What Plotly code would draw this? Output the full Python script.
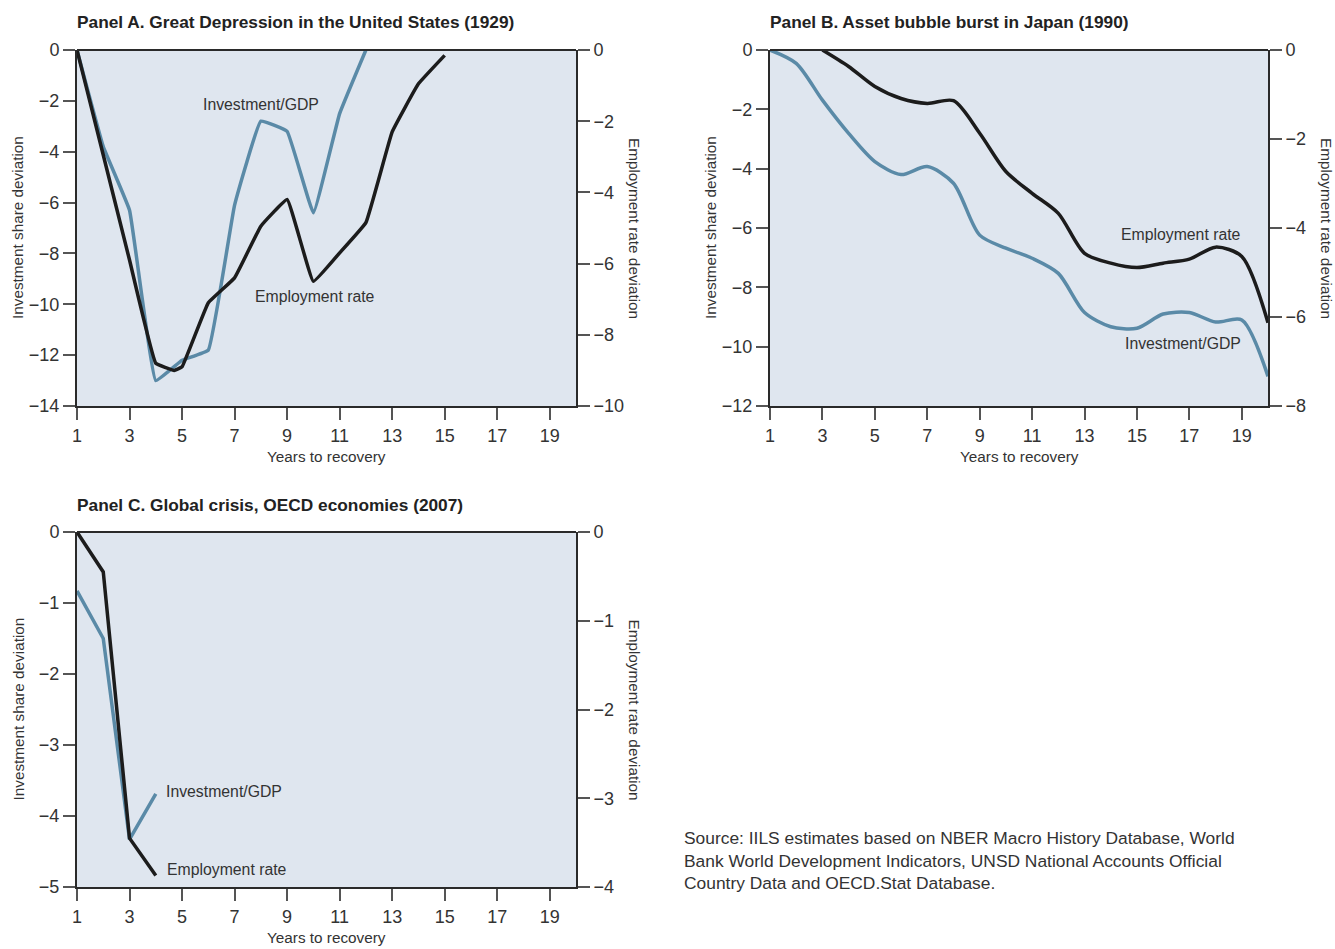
import plotly.graph_objects as go

# ---------------- data ----------------
years_a_inv = [1, 2, 3, 4, 5, 6, 7, 8, 9, 10, 11, 12]
inv_a = [0.0, -3.8, -6.3, -13.0, -12.2, -11.8, -6.1, -2.8, -3.2, -6.4, -2.5, 0.0]
years_a_emp = [1, 2, 3, 4, 4.7, 5, 6, 7, 8, 9, 10, 11, 12, 13, 14, 15]
emp_a = [0.0, -2.95, -5.9, -8.8, -9.0, -8.9, -7.1, -6.4, -4.95, -4.2, -6.5, -5.7, -4.85, -2.3, -0.95, -0.15]

years_b_inv = list(range(1, 21))
inv_b = [0.0, -0.45, -1.69, -2.81, -3.76, -4.2, -3.93, -4.49, -6.24, -6.68, -7.02,
         -7.53, -8.85, -9.33, -9.38, -8.9, -8.85, -9.17, -9.1, -11.0]
years_b_emp = list(range(3, 21))
emp_b = [0.0, -0.37, -0.82, -1.09, -1.2, -1.14, -1.87, -2.73, -3.22, -3.67, -4.57,
         -4.79, -4.89, -4.79, -4.7, -4.43, -4.64, -6.13]

years_c = [1, 2, 3, 4]
inv_c = [-0.83, -1.5, -4.33, -3.69]
emp_c = [0.0, -0.45, -3.45, -3.87]

x_ticks = [1, 3, 5, 7, 9, 11, 13, 15, 17, 19]

titles = ["Panel A. Great Depression in the United States (1929)",
          "Panel B. Asset bubble burst in Japan (1990)",
          "Panel C. Global crisis, OECD economies (2007)"]
source_text = ("Source: IILS estimates based on NBER Macro History Database, World<br>"
               "Bank World Development Indicators, UNSD National Accounts Official<br>"
               "Country Data and OECD.Stat Database.")

# ---------------- style ----------------
W, H = 1335, 949
BG = "#dfe6ef"
BLUE = "#5a8aa7"
BLACK = "#1c1c1c"
AX = "#2a2a2a"
TICK = "#555555"
TXT = "#333333"
FONT = "Liberation Sans, Arial, sans-serif"


def px_x(v):
    return v / W


def px_y(v):
    return 1 - v / H


fig = go.Figure()

# panel geometry in pixels: (left, right, top, bottom)
panels = [
    (77, 576, 50, 406),
    (770, 1268, 50, 406),
    (77, 576, 532, 887),
]

fig.add_trace(go.Scatter(x=years_a_inv, y=inv_a, xaxis="x", yaxis="y", mode="lines",
                         line=dict(color=BLUE, width=3.5, shape="spline", smoothing=0.25),
                         showlegend=False))
fig.add_trace(go.Scatter(x=years_a_emp, y=emp_a, xaxis="x", yaxis="y2", mode="lines",
                         line=dict(color=BLACK, width=3.5, shape="spline", smoothing=0.25),
                         showlegend=False))
fig.add_trace(go.Scatter(x=years_b_inv, y=inv_b, xaxis="x2", yaxis="y3", mode="lines",
                         line=dict(color=BLUE, width=3.5, shape="spline", smoothing=0.8),
                         showlegend=False))
fig.add_trace(go.Scatter(x=years_b_emp, y=emp_b, xaxis="x2", yaxis="y4", mode="lines",
                         line=dict(color=BLACK, width=3.5, shape="spline", smoothing=0.8),
                         showlegend=False))
fig.add_trace(go.Scatter(x=years_c, y=inv_c, xaxis="x3", yaxis="y5", mode="lines",
                         line=dict(color=BLUE, width=3.5), showlegend=False))
fig.add_trace(go.Scatter(x=years_c, y=emp_c, xaxis="x3", yaxis="y6", mode="lines",
                         line=dict(color=BLACK, width=3.5), showlegend=False))

tickfont = dict(family=FONT, size=18, color=TXT)
common_axis = dict(showgrid=False, zeroline=False, showline=True, linecolor=AX, linewidth=2,
                   ticks="outside", ticklen=12, tickwidth=1.5, tickcolor=TICK,
                   tickfont=tickfont, automargin=False)

left_ranges = [(-14, 0, 2), (-12, 0, 2), (-5, 0, 1)]
right_ranges = [(-10, 0, 2), (-8, 0, 2), (-4, 0, 1)]

layout = dict(width=W, height=H, margin=dict(l=0, r=0, t=0, b=0, pad=0),
              autosize=False,
              paper_bgcolor="white", plot_bgcolor=BG, showlegend=False)

for i, (l, r, t, b) in enumerate(panels):
    xi = "" if i == 0 else str(i + 1)
    yl = "" if i == 0 else str(2 * i + 1)
    yr = str(2 * i + 2)
    layout["xaxis" + xi] = dict(common_axis, domain=[px_x(l), px_x(r)], range=[1, 20],
                                tickvals=x_ticks, anchor="y" + yl, mirror=False)
    lo, hi, d = left_ranges[i]
    layout["yaxis" + yl] = dict(common_axis, domain=[px_y(b), px_y(t)], range=[lo, hi],
                                dtick=d, tick0=0, anchor="x" + xi, mirror=False,
                                tickformat="d")
    lo2, hi2, d2 = right_ranges[i]
    layout["yaxis" + yr] = dict(common_axis, domain=[px_y(b), px_y(t)], range=[lo2, hi2],
                                dtick=d2, tick0=0, anchor="x" + xi, overlaying="y" + yl,
                                side="right", tickformat="d")

fig.update_layout(**layout)

# top border of each panel
for (l, r, t, b) in panels:
    fig.add_shape(type="line", xref="paper", yref="paper", x0=px_x(l), x1=px_x(r),
                  y0=px_y(t), y1=px_y(t), line=dict(color=AX, width=2))

ann = []
# titles
title_pos = [(77, 22), (770, 22), (77, 505)]
for txt, (x, y) in zip(titles, title_pos):
    ann.append(dict(text="<b>" + txt + "</b>", x=px_x(x - 2), y=px_y(y), xanchor="left",
                    yanchor="middle", font=dict(family=FONT, size=17.3, color="#222")))
# axis titles
for (l, r, t, b) in panels:
    cy = (t + b) / 2
    ann.append(dict(text="Investment share deviation", x=px_x(l - 59), y=px_y(cy),
                    textangle=-90, xanchor="center", yanchor="middle",
                    font=dict(family=FONT, size=15.3, color=TXT)))
    ann.append(dict(text="Employment rate deviation", x=px_x(r + 58), y=px_y(cy),
                    textangle=90, xanchor="center", yanchor="middle",
                    font=dict(family=FONT, size=15.3, color=TXT)))
    ann.append(dict(text="Years to recovery", x=px_x((l + r) / 2), y=px_y(b + 50),
                    xanchor="center", yanchor="middle",
                    font=dict(family=FONT, size=15.3, color=TXT)))

# series labels
labels = [("Investment/GDP", 261, 104), ("Employment rate", 315, 297),
          ("Employment rate", 1181, 235), ("Investment/GDP", 1183, 343),
          ("Investment/GDP", 224, 791), ("Employment rate", 227, 869)]
for txt, x, y in labels:
    ann.append(dict(text=txt, x=px_x(x), y=px_y(y), xanchor="center", yanchor="middle",
                    font=dict(family=FONT, size=15.8, color=TXT)))

ann.append(dict(text=source_text, x=px_x(682), y=px_y(860), xanchor="left",
                yanchor="middle", align="left",
                font=dict(family=FONT, size=17.4, color=TXT)))

for a in ann:
    a.update(xref="paper", yref="paper", showarrow=False)
fig.update_layout(annotations=ann)

fig.write_html("out.html", config={"displayModeBar": False},
               post_script="document.body.style.margin='0px';document.body.style.overflow='hidden';")
